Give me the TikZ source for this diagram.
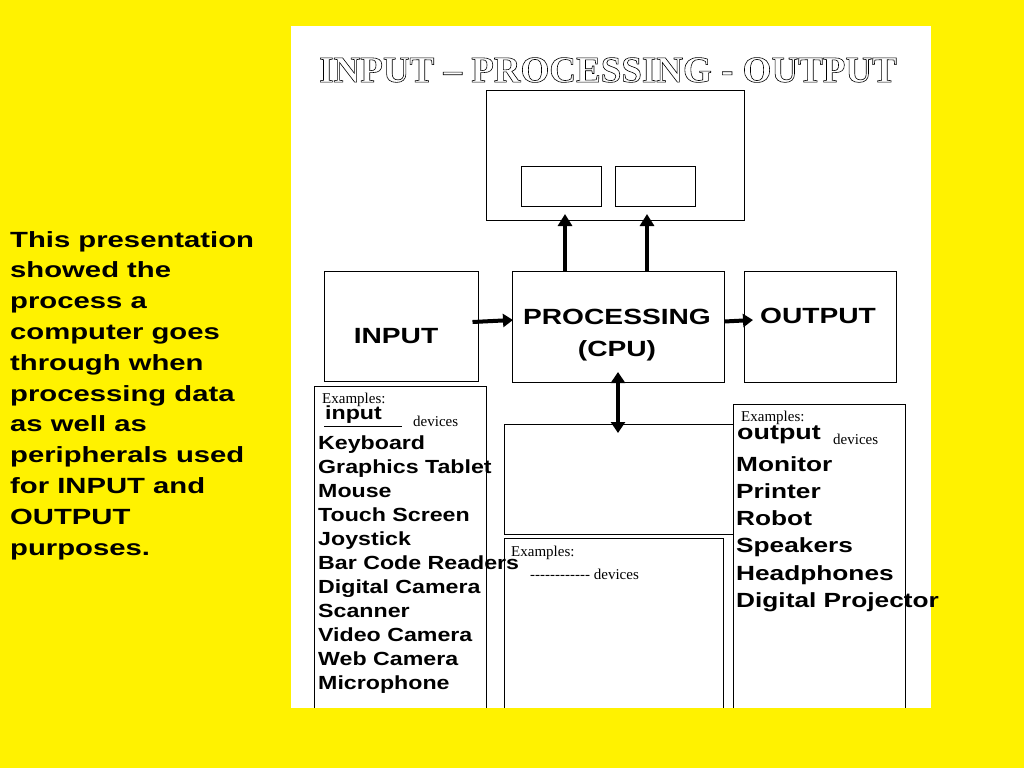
\documentclass[tikz,border=0pt]{standalone}
\usepackage{fontspec}
\setmainfont{Liberation Sans}
\newfontfamily\serif{Liberation Serif}
\newfontfamily\wa[FakeStretch=1.33]{Liberation Sans}
\newfontfamily\wb[FakeStretch=1.22]{Liberation Sans}
\newfontfamily\wc[FakeStretch=1.28]{Liberation Sans}
\tikzset{
 bx/.style={draw=black,line width=1pt},
 lbl/.style={font=\wc\bfseries\fontsize{22}{22}\selectfont,inner sep=0pt},
 dev/.style={font=\wb\bfseries\fontsize{19}{24}\selectfont,inner sep=0pt,anchor=north west,align=left},
 devr/.style={font=\wc\bfseries\fontsize{20.5}{27.3}\selectfont,inner sep=0pt,anchor=north west,align=left},
 ex/.style={font=\serif\fontsize{15}{15}\selectfont,inner sep=0pt,anchor=west},
 arr/.style={line width=4pt,-{Triangle[length=12pt,width=14pt]}},
}
\usetikzlibrary{arrows.meta}
\begin{document}
\begin{tikzpicture}[x=1pt,y=-1pt]
\fill[yellow] (0,0) rectangle (1024,768);
\useasboundingbox (0,0) rectangle (1024,768);
\fill[white] (291,26) rectangle (931,708);
% title
\node[inner sep=0pt,font=\serif\bfseries\fontsize{37}{37}\selectfont] (title) at (608,70)
 {\special{pdf:literal direct 1 Tr 0.6 w}INPUT – PROCESSING - OUTPUT\special{pdf:literal direct 0 Tr}};
% boxes
\draw[bx] (486,90) rectangle (744,220);
\draw[bx] (521,166) rectangle (601,206);
\draw[bx] (615,166) rectangle (695,206);
\node[bx,minimum width=154pt,minimum height=110pt,inner sep=0pt] (in) at (401,326) {};
\node[bx,minimum width=212pt,minimum height=111pt,inner sep=0pt] (proc) at (618,326.5) {};
\node[bx,minimum width=152pt,minimum height=111pt,inner sep=0pt] (out) at (820,326.5) {};
\node[lbl] at (396,336) {INPUT};
\node[lbl,align=center,font=\wc\bfseries\fontsize{22}{32}\selectfont] at (617,335) {PROCESSING\\(CPU)};
\node[lbl] at (818,316) {OUTPUT};
\coordinate (a1) at (565,271); \coordinate (a1e) at (565,214);
\coordinate (a2) at (647,271); \coordinate (a2e) at (647,214);
\draw[arr] (a1) -- (a1e);
\draw[arr] (a2) -- (a2e);
\draw[arr,-{Triangle[length=10pt,width=13pt]}] (in.east)++(-6,-4) -- (513,320);
\draw[arr,-{Triangle[length=10pt,width=13pt]}] (proc.east)++(0,-5) -- (753,320);
\coordinate (d1) at (618,372); \coordinate (d2) at (618,433);
\draw[line width=4pt,{Triangle[length=11pt,width=14pt]}-{Triangle[length=11pt,width=14pt]}] (d1) -- (d2);
% lower boxes
\draw[bx] (314,708) -- (314,386) -- (486,386) -- (486,708);
\draw[bx] (504,424) rectangle (733,534);
\draw[bx] (504,708) -- (504,538) -- (723,538) -- (723,708);
\draw[bx] (733,708) -- (733,404) -- (905,404) -- (905,708);
% left examples
\node[ex] at (322,400) {Examples:};
\node[inner sep=0pt,anchor=west,font=\wb\bfseries\fontsize{19}{19}\selectfont] at (325,415) {input};
\draw (324,426) -- (402,426);
\node[ex] at (413,421) {devices};
\node[dev] at (318,436) {Keyboard\\Graphics Tablet\\Mouse\\Touch Screen\\Joystick\\Bar Code Readers\\Digital Camera\\Scanner\\Video Camera\\Web Camera\\Microphone};
% right examples
\node[ex] at (741,418) {Examples:};
\node[inner sep=0pt,anchor=west,font=\wc\bfseries\fontsize{21}{21}\selectfont] at (737,435) {output};
\node[ex] at (833,439) {devices};
\node[devr] at (736,456) {Monitor\\Printer\\Robot\\Speakers\\Headphones\\Digital Projector};
% lower middle
\node[ex] at (511,553) {Examples:};
\node[ex] at (530,574) {------------ devices};
% left paragraph
\node[font=\wa\bfseries\fontsize{22}{30.8}\selectfont,inner sep=0pt,anchor=north west,align=left] (para) at (10,231)
 {This presentation\\showed the\\process a\\computer goes\\through when\\processing data\\as well as\\peripherals used\\for INPUT and\\OUTPUT\\purposes.};
\end{tikzpicture}
\end{document}
